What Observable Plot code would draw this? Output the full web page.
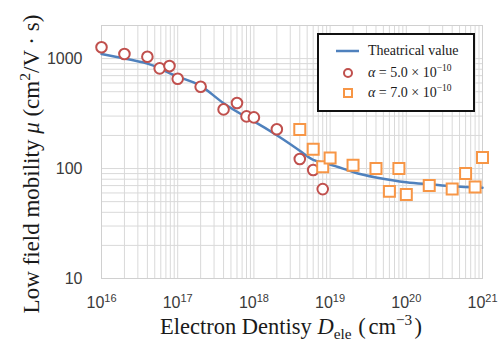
<!DOCTYPE html>
<html><head><meta charset="utf-8">
<script src="https://cdn.jsdelivr.net/npm/d3@7"></script>
<script src="https://cdn.jsdelivr.net/npm/@observablehq/plot@0.6"></script>
<style>
html,body{margin:0;padding:0;background:#fff;}
#chart{position:relative;width:500px;height:347px;overflow:hidden;}
.serif{font-family:"Liberation Serif","Times New Roman",serif;color:#1a1a1a;}
#ytitle{position:absolute;left:31px;top:164px;transform:translate(-50%,-50%) rotate(-90deg);white-space:nowrap;font-size:23px;line-height:1;}
#xtitle{position:absolute;left:291px;top:327px;transform:translate(-50%,-50%);white-space:nowrap;font-size:22.5px;line-height:1;}
sup,sub{font-size:0.68em;line-height:0;}
.par{margin:0 0.12em 0 0.3em;}
.par2{margin-left:0.1em;}
#legend{position:absolute;left:317px;top:33px;width:158px;height:79px;border:2px solid #111;background:#fff;box-sizing:border-box;}
#legend .row{position:absolute;left:49px;font-size:14px;line-height:1;transform:translateY(-50%);white-space:nowrap;}
#legend svg{position:absolute;left:0;top:0;}
</style>
</head><body>
<div id="chart"></div>
<script>
// Theoretical curve
const curveX = [1e16, 2e16, 4e16, 6e16, 1e17, 2e17, 4e17, 1e18, 2e18, 4e18, 6e18, 1e19, 2e19, 4e19, 1e20, 2e20, 4e20, 1e21];
const curveY = [1100, 1000, 900, 805, 685, 565, 393, 269, 201, 145, 120, 109, 93, 83, 75, 72, 69, 67];
// alpha = 5.0e-10 (circles)
const circleX = [1e16, 2e16, 4e16, 5.8e16, 7.8e16, 1e17, 2e17, 4e17, 6e17, 8e17, 1e18, 2e18, 4e18, 6e18, 8e18];
const circleY = [1270, 1100, 1040, 815, 855, 655, 555, 345, 395, 298, 292, 228, 122, 97, 65];
// alpha = 7.0e-10 (squares)
const squareX = [4e18, 6e18, 8e18, 1e19, 2e19, 4e19, 6e19, 8e19, 1e20, 2e20, 4e20, 6e20, 8e20, 1e21];
const squareY = [226, 150, 104, 125, 107, 100, 62, 100, 58, 70, 65, 90, 68, 126];
// ticks
const xTicks = [1e16, 1e17, 1e18, 1e19, 1e20, 1e21];
const xTickExps = ["16", "17", "18", "19", "20", "21"];
const yTicks = [10, 100, 1000];
const yTickLabels = ["10", "100", "1000"];

const curve = curveX.map((x, i) => ({x, y: curveY[i]}));
const circles = circleX.map((x, i) => ({x, y: circleY[i]}));
const squares = squareX.map((x, i) => ({x, y: squareY[i]}));

const RED = "#c0504d", ORANGE = "#f79646", BLUE = "#4f81bd", GRID = "#d9d9d9";

const svg = Plot.plot({
  width: 500, height: 347,
  marginLeft: 101, marginRight: 18, marginTop: 25, marginBottom: 69,
  x: {type: "log", domain: [1e16, 1e21]},
  y: {type: "log", domain: [10, 2000]},
  style: {fontFamily: "'Liberation Sans', Arial, sans-serif", fontSize: "16px", color: "#3a3a3a", background: "white"},
  marks: [
    Plot.gridX({ticks: 30, stroke: GRID, strokeOpacity: 1}),
    Plot.gridY({ticks: 20, stroke: GRID, strokeOpacity: 1}),
    Plot.frame({stroke: "#d0d0d0"}),
    Plot.axisX({ticks: xTicks, tickSize: 0, tickPadding: 18, label: null,
      tickFormat: d => "10^" + xTickExps[xTicks.indexOf(d)]}),
    Plot.axisY({ticks: yTicks, tickSize: 0, tickPadding: 19, label: null,
      tickFormat: d => yTickLabels[yTicks.indexOf(d)]}),
    Plot.line(curve, {x: "x", y: "y", stroke: BLUE, strokeWidth: 2.5, curve: "natural"}),
    Plot.dot(circles, {x: "x", y: "y", r: 5.3, symbol: "circle", stroke: RED, strokeWidth: 2, fill: "white"}),
    Plot.dot(squares, {x: "x", y: "y", r: 6.2, symbol: "square", stroke: ORANGE, strokeWidth: 2, fill: "white"})
  ]
});

d3.select(svg).selectAll('g[aria-label="x-axis tick label"] text').each(function() {
  const parts = this.textContent.split("^");
  this.textContent = parts[0];
  d3.select(this).append("tspan").attr("dy", "-6px").attr("font-size", "11px").text(parts[1]);
});

const chart = document.getElementById("chart");
chart.appendChild(svg);

const yt = document.createElement("div");
yt.id = "ytitle"; yt.className = "serif";
yt.innerHTML = "Low field mobility <i>μ</i> (cm<sup>2</sup>/V · s)";
chart.appendChild(yt);

const xt = document.createElement("div");
xt.id = "xtitle"; xt.className = "serif";
xt.innerHTML = "Electron Dentisy <i>D</i><sub>ele</sub><span class=\"par\">(</span>cm<sup>−3</sup><span class=\"par2\">)</span>";
chart.appendChild(xt);

const lg = document.createElement("div");
lg.id = "legend"; lg.className = "serif";
lg.innerHTML = `
<svg width="154" height="75">
  <line x1="17" x2="40" y1="16" y2="16" stroke="${BLUE}" stroke-width="2.5"/>
  <circle cx="29" cy="38" r="4" fill="white" stroke="${RED}" stroke-width="2"/>
  <rect x="25" y="54" width="8" height="8" fill="white" stroke="${ORANGE}" stroke-width="2"/>
</svg>
<div class="row" style="top:16px">Theatrical value</div>
<div class="row" style="top:38px"><i>α</i> = 5.0 × 10<sup>−10</sup></div>
<div class="row" style="top:58px"><i>α</i> = 7.0 × 10<sup>−10</sup></div>`;
chart.appendChild(lg);
</script>
</body></html>
